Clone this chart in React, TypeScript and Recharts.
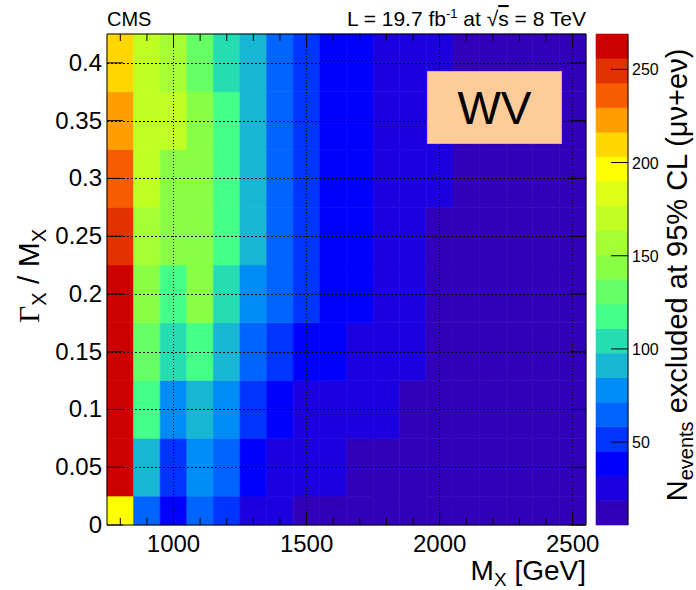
import React from 'react';
import { ComposedChart, XAxis, YAxis, ReferenceArea, ReferenceLine, Label } from 'recharts';

// resonance mass (bin centres, GeV) and relative width (bin centres)
const massPoints = [800, 900, 1000, 1100, 1200, 1300, 1400, 1500, 1600, 1700, 1800, 1900, 2000, 2100, 2200, 2300, 2400, 2500];
const widthPoints = [0, 0.05, 0.1, 0.15, 0.2, 0.25, 0.3, 0.35, 0.4];

// N events excluded at 95% CL, one row per width, one value per mass
const nEvtW000 = [198, 63, 40, 66, 52, 26, 21, 16, 13, 12, 11, 10, 9, 8, 8, 7, 7, 6];
const nEvtW005 = [262, 92, 54, 77, 63, 40, 28, 24, 20, 17, 14, 12, 11, 10, 9, 8, 8, 7];
const nEvtW010 = [262, 118, 80, 90, 78, 50, 38, 28, 25, 22, 20, 17, 14, 12, 11, 10, 9, 8];
const nEvtW015 = [262, 130, 105, 116, 92, 64, 52, 40, 34, 29, 22, 19, 16, 14, 12, 11, 10, 9];
const nEvtW020 = [262, 143, 120, 138, 102, 80, 60, 47, 35, 32, 23, 20, 17, 15, 13, 11, 10, 9];
const nEvtW025 = [249, 158, 145, 140, 114, 87, 61, 48, 35, 32, 24, 21, 18, 15, 13, 12, 10, 9];
const nEvtW030 = [236, 172, 146, 140, 115, 88, 62, 49, 36, 32, 24, 21, 19, 16, 14, 12, 11, 10];
const nEvtW035 = [222, 170, 166, 142, 117, 89, 63, 50, 37, 33, 25, 22, 19, 16, 14, 12, 11, 10];
const nEvtW040 = [209, 170, 158, 130, 104, 90, 64, 51, 37, 33, 25, 22, 20, 16, 14, 12, 11, 10];
const nEvtByWidth = [nEvtW000, nEvtW005, nEvtW010, nEvtW015, nEvtW020, nEvtW025, nEvtW030, nEvtW035, nEvtW040];

const massLabels = [1000, 1500, 2000, 2500];
const zTicks = [50, 100, 150, 200, 250];

const massStep = 100;
const widthStep = 0.05;
const xMin = 750;
const xMax = 2550;
const yMin = 0;
const yMax = 0.425;
const zMin = 5.5;
const zMax = 269;

// ROOT-like rainbow, 20 contours, low -> high
const palette = [
  '#3200b8', '#1c00e0', '#0000ff', '#0034ff', '#0064ff', '#008cf4', '#17b6d3', '#26dcb2', '#44ff88', '#66ff66',
  '#88ff44', '#a6ff33', '#c0ff22', '#dcff18', '#ffff00', '#ffd700', '#ff9e00', '#f85c00', '#e23200', '#cc0000',
];
const nLevels = palette.length;
const zStep = (zMax - zMin) / nLevels;

const colorFor = (v: number) => {
  const k = Math.floor((v - zMin) / zStep);
  return palette[Math.min(nLevels - 1, Math.max(0, k))];
};

const cells = widthPoints.flatMap((w, j) =>
  massPoints.map((m, i) => ({ m, w, n: nEvtByWidth[j][i] }))
);
const levels = palette.map((c, i) => ({ lo: zMin + i * zStep, hi: zMin + (i + 1) * zStep, c }));

const font = '"Liberation Sans", Arial, Helvetica, sans-serif';
const axisLine = { stroke: '#000', strokeWidth: 1 };
const layer = { position: 'absolute' as const, left: 0, top: 0 };

// plot frame: 107..586 x 34..525
const chartW = 696;
const chartH = 590;
const plotMargin = { top: 34, right: 110, bottom: 65, left: 107 };
const barMargin = { top: 34, right: 68, bottom: 65, left: 596 };
const plotW = chartW - plotMargin.left - plotMargin.right;

const BottomTick = ({ x, y, payload }: any) => {
  const v = payload.value as number;
  const major = v % 500 === 0;
  return (
    <g>
      <line x1={x} y1={y} x2={x} y2={y - (major ? 13 : 7)} stroke="#000" />
      {major && (
        <text x={x} y={y + 27} textAnchor="middle" fontSize={24} fontFamily={font} fill="#000">
          {v}
        </text>
      )}
    </g>
  );
};

const TopTick = ({ x, y, payload }: any) => {
  const major = (payload.value as number) % 500 === 0;
  return <line x1={x} y1={y} x2={x} y2={y + (major ? 13 : 7)} stroke="#000" />;
};

// left tick also carries the dotted horizontal grid line across the frame
const LeftTick = ({ x, y, payload }: any) => {
  const v = payload.value as number;
  const gy = Math.round(y) + 0.5;
  return (
    <g>
      {v > 0 && (
        <path d={`M${x},${gy}H${x + plotW}`} stroke="#000" strokeWidth={1} strokeDasharray="2 2" fill="none" />
      )}
      <line x1={x} y1={y} x2={x + 16} y2={y} stroke="#000" />
      <text x={x - 5} y={y + 8} textAnchor="end" fontSize={24} fontFamily={font} fill="#000">
        {String(Number(v.toFixed(2)))}
      </text>
    </g>
  );
};

const RightTick = ({ x, y }: any) => <line x1={x - 16} y1={y} x2={x} y2={y} stroke="#000" />;

const ZTick = ({ x, y, payload }: any) => (
  <g>
    <line x1={x - 17} y1={y} x2={x} y2={y} stroke="#000" />
    <text x={x + 4} y={y + 6} fontSize={16} fontFamily={font} fill="#000">
      {payload.value}
    </text>
  </g>
);

export default function App() {
  return (
    <div style={{ ...layer, width: chartW, height: chartH, background: '#fff', fontFamily: font }}>
      {/* heat map cells */}
      <ComposedChart width={chartW} height={chartH} data={cells} margin={plotMargin} style={layer}>
        <XAxis type="number" dataKey="m" domain={[xMin, xMax]} allowDataOverflow hide />
        <YAxis type="number" dataKey="w" domain={[yMin, yMax]} allowDataOverflow hide />
        {cells.map((c) => {
          const col = colorFor(c.n);
          return (
            <ReferenceArea
              key={`${c.m}-${c.w}`}
              x1={c.m - massStep / 2}
              x2={c.m + massStep / 2}
              y1={Math.max(yMin, c.w - widthStep / 2)}
              y2={Math.min(yMax, c.w + widthStep / 2)}
              fill={col}
              fillOpacity={1}
              stroke={col}
              strokeWidth={0.6}
              ifOverflow="visible"
            />
          );
        })}
      </ComposedChart>

      {/* colour bar */}
      <ComposedChart width={chartW} height={chartH} data={levels} margin={barMargin} style={layer}>
        <XAxis type="number" dataKey="lo" domain={[0, 1]} allowDataOverflow hide />
        <YAxis type="number" dataKey="lo" domain={[zMin, zMax]} allowDataOverflow hide />
        {levels.map((l) => (
          <ReferenceArea
            key={`z${l.lo}`}
            x1={0}
            x2={1}
            y1={l.lo}
            y2={l.hi}
            fill={l.c}
            fillOpacity={1}
            stroke={l.c}
            strokeWidth={0.6}
            ifOverflow="visible"
          />
        ))}
      </ComposedChart>

      {/* vertical dotted grid */}
      <ComposedChart width={chartW} height={chartH} data={cells} margin={plotMargin} style={layer}>
        <XAxis type="number" dataKey="m" domain={[xMin, xMax]} allowDataOverflow hide />
        <YAxis type="number" dataKey="w" domain={[yMin, yMax]} allowDataOverflow hide />
        {massLabels.map((m) => (
          <ReferenceLine
            key={`gx${m}`}
            x={m}
            stroke="#000"
            strokeWidth={1}
            strokeDasharray="1 2"
            shapeRendering="crispEdges"
            ifOverflow="visible"
          />
        ))}
      </ComposedChart>

      {/* frame, ticks and titles */}
      <ComposedChart width={chartW} height={chartH} data={cells} margin={{ top: 0, right: 0, bottom: 0, left: 0 }} style={layer}>
        <XAxis
          type="number"
          dataKey="m"
          domain={[xMin, xMax]}
          allowDataOverflow
          ticks={massPoints}
          interval={0}
          height={plotMargin.bottom}
          tickSize={0}
          tickMargin={0}
          axisLine={axisLine}
          tickLine={false}
          tick={<BottomTick />}
        >
          <Label
            content={() => (
              <text x={586} y={580} textAnchor="end" fontSize={28} fontFamily={font} fill="#000">
                M<tspan fontSize={19} dy={6}>X</tspan>
                <tspan dy={-6}> [GeV]</tspan>
              </text>
            )}
          />
        </XAxis>
        <XAxis
          xAxisId="top"
          orientation="top"
          type="number"
          dataKey="m"
          domain={[xMin, xMax]}
          allowDataOverflow
          ticks={massPoints}
          interval={0}
          height={plotMargin.top}
          tickSize={0}
          tickMargin={0}
          axisLine={axisLine}
          tickLine={false}
          tick={<TopTick />}
        >
          <Label
            content={() => (
              <g fontFamily={font} fill="#000">
                <text x={107} y={26} fontSize={20}>CMS</text>
                <text x={586} y={26} textAnchor="end" fontSize={21}>
                  L = 19.7 fb<tspan fontSize={13} dy={-8}>-1</tspan>
                  <tspan dy={8}> at √</tspan>
                  <tspan style={{ textDecoration: 'overline' }}>s</tspan>
                  <tspan> = 8 TeV</tspan>
                </text>
              </g>
            )}
          />
        </XAxis>
        <YAxis
          type="number"
          dataKey="w"
          domain={[yMin, yMax]}
          allowDataOverflow
          ticks={widthPoints}
          interval={0}
          width={plotMargin.left}
          tickSize={0}
          tickMargin={0}
          axisLine={axisLine}
          tickLine={false}
          tick={<LeftTick />}
        >
          <Label
            content={() => (
              <text transform="translate(39, 276) rotate(-90)" textAnchor="middle" fontSize={30} fontFamily={font} fill="#000">
                <tspan fontFamily='"Liberation Serif", serif'>Γ</tspan>
                <tspan fontSize={20} dy={7}>X</tspan>
                <tspan dy={-7}> / M</tspan>
                <tspan fontSize={20} dy={7}>X</tspan>
              </text>
            )}
          />
        </YAxis>
        <YAxis
          yAxisId="right"
          orientation="right"
          type="number"
          dataKey="w"
          domain={[yMin, yMax]}
          allowDataOverflow
          ticks={widthPoints}
          interval={0}
          width={plotMargin.right}
          tickSize={0}
          tickMargin={0}
          axisLine={axisLine}
          tickLine={false}
          tick={<RightTick />}
        />
      </ComposedChart>

      {/* colour bar axis */}
      <ComposedChart width={chartW} height={chartH} data={levels} margin={{ ...barMargin, right: 0 }} style={layer}>
        <XAxis type="number" dataKey="lo" domain={[0, 1]} allowDataOverflow hide />
        <YAxis
          orientation="right"
          type="number"
          dataKey="lo"
          domain={[zMin, zMax]}
          allowDataOverflow
          ticks={zTicks}
          interval={0}
          width={barMargin.right}
          tickSize={0}
          tickMargin={0}
          axisLine={axisLine}
          tickLine={false}
          tick={<ZTick />}
        >
          <Label
            content={() => (
              <text transform="translate(687, 275) rotate(-90)" textAnchor="middle" fontSize={29} fontFamily={font} fill="#000">
                N<tspan fontSize={20} dy={6}>events</tspan>
                <tspan dy={-6}> excluded at 95% CL (μν+eν)</tspan>
              </text>
            )}
          />
        </YAxis>
      </ComposedChart>

      <div
        style={{
          position: 'absolute',
          left: 427,
          top: 71,
          width: 133,
          height: 71,
          background: '#fecc99',
          border: '1px solid #e8a884',
          display: 'flex',
          alignItems: 'center',
          justifyContent: 'center',
          fontSize: 46,
          fontFamily: font,
          color: '#000',
        }}
      >
        WV
      </div>
    </div>
  );
}
